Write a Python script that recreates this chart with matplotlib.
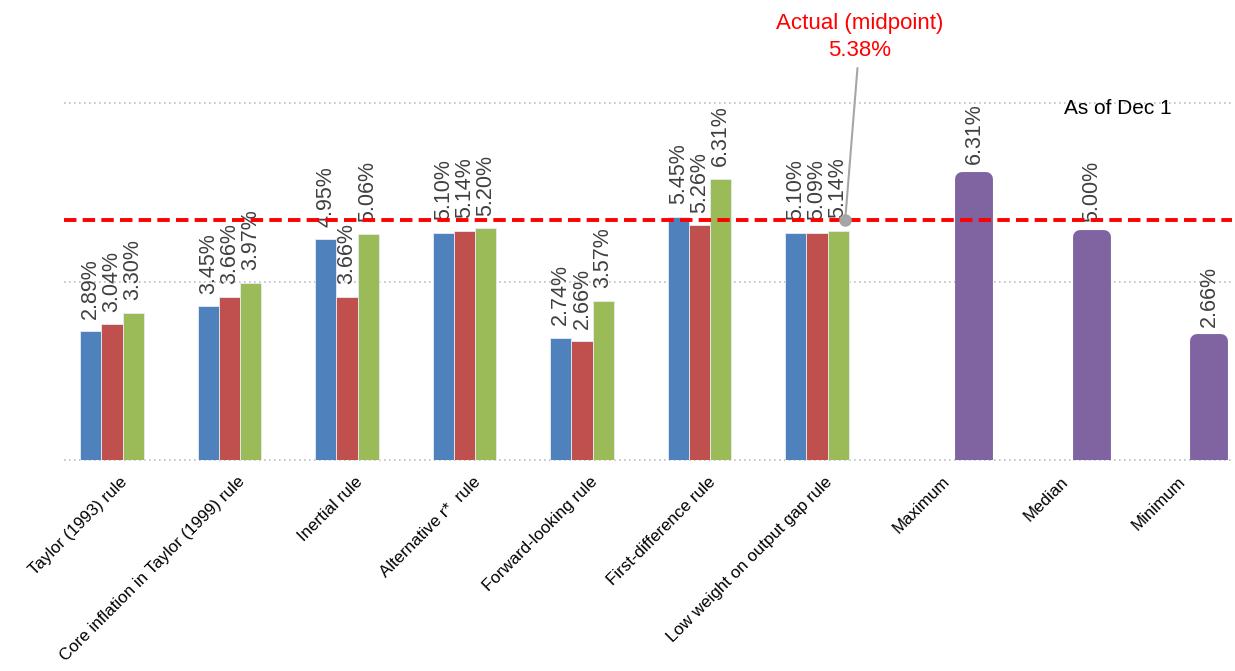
import numpy as np
import matplotlib.pyplot as plt
from matplotlib.transforms import ScaledTranslation

plt.rcParams['font.family'] = ['Liberation Sans', 'DejaVu Sans']

categories = ["Taylor (1993) rule", "Core inflation in Taylor (1999) rule", "Inertial rule",
              "Alternative r*  rule", "Forward-looking rule", "First-difference rule",
              "Low weight on output gap rule", "Maximum", "Median", "Minimum"]
# three estimates per rule (blue, red, green)
rate_blue = [2.89, 3.45, 4.95, 5.10, 2.74, 5.45, 5.10]
rate_red = [3.04, 3.66, 3.66, 5.14, 2.66, 5.26, 5.09]
rate_green = [3.30, 3.97, 5.06, 5.20, 3.57, 6.31, 5.14]
# summary stats
summary = [6.31, 5.00, 2.66]
actual = 5.38
note = "As of Dec 1"

fig = plt.figure(figsize=(12.35, 6.71), dpi=100)
ax = fig.add_axes([64/1235, 211/671, 1168/1235, 446/671])

x = np.arange(len(categories))
xr = x[:len(rate_blue)]
xs = x[len(rate_blue):]
w = 0.18

for off, vals, col in [(-w, rate_blue, '#4F81BD'), (0, rate_red, '#C0504D'), (w, rate_green, '#9BBB59')]:
    b = ax.bar(xr + off, vals, w, color=col, edgecolor='#E6ECF4', linewidth=0.6, zorder=2)
    ax.bar_label(b, labels=[f"{v:.2f}%" for v in vals], rotation=90, padding=9,
                 color='#404040', fontsize=15.5)

bp = ax.bar(xs + 0.34, summary, 0.205, color='#8064A2', edgecolor='#8064A2', linewidth=10,
            joinstyle='round', zorder=2)
ax.bar_label(bp, labels=[f"{v:.2f}%" for v in summary], rotation=90, padding=10.5,
             color='#404040', fontsize=15.5)

# actual rate line
ax.axhline(actual, color='#FF0000', lw=2.8, dashes=(3.2, 1.6), zorder=3)
ax.annotate(f"Actual (midpoint)\n{actual:.2f}%", xy=(6.24, actual), xytext=(6.366, 10.03),
            ha='center', va='top', color='#FF0000', fontsize=16, linespacing=1.4,
            annotation_clip=False,
            arrowprops=dict(arrowstyle='-', color='#A6A6A6', lw=1.5, shrinkA=3, shrinkB=0))
ax.plot(6.24, actual, 'o', color='#A6A6A6', ms=8, zorder=4)

ax.text(8.56, 7.89, note, ha='center', va='center', fontsize=15, color='black')

ax.set_xlim(-0.4085, 9.532)
ax.set_ylim(0, 10)
ax.set_yticks([0, 4, 8])
ax.yaxis.grid(True, color='#BFBFBF', linestyle=(0, (1, 2)), lw=1.2)
for gl in ax.get_ygridlines():
    gl.set_clip_on(False)
ax.set_axisbelow(True)
ax.tick_params(axis='y', length=0, labelleft=False)
for s in ax.spines.values():
    s.set_visible(False)

ax.set_xticks(x, categories, rotation=45, ha='right', rotation_mode='anchor', fontsize=12.2)
ax.tick_params(axis='x', length=0, pad=10)
for lab in ax.get_xticklabels():
    lab.set_transform(lab.get_transform() + ScaledTranslation(0.08, 0, fig.dpi_scale_trans))

fig.savefig('out.png', dpi=100)
